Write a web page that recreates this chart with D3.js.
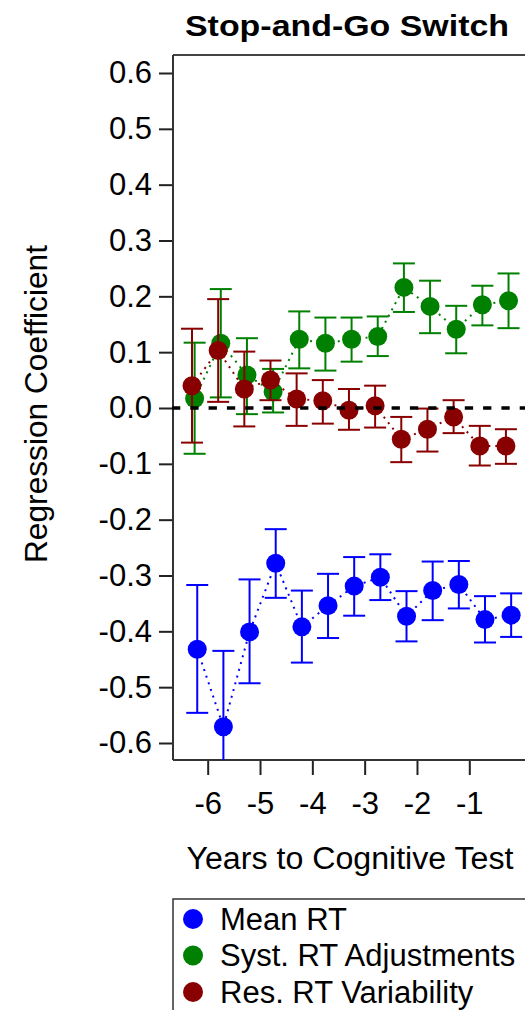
<!DOCTYPE html>
<html>
<head>
<meta charset="utf-8">
<script src="https://cdn.jsdelivr.net/npm/d3@7"></script>
<style>
  html, body { margin: 0; padding: 0; background: #fff; }
  svg { display: block; }
  text { font-family: "Liberation Sans", Arial, sans-serif; fill: #000; }
</style>
</head>
<body>
<svg id="chart" width="525" height="1010"></svg>
<script>
// ---- data ----
const years = [-6.25, -5.75, -5.25, -4.75, -4.25, -3.75, -3.25, -2.75, -2.25, -1.75, -1.25, -0.75, -0.25];

const meanRT   = [-0.432, -0.571, -0.401, -0.278, -0.392, -0.354, -0.319, -0.303, -0.373, -0.327, -0.316, -0.379, -0.371];
const meanRTLo = [-0.546, -0.707, -0.493, -0.340, -0.456, -0.412, -0.372, -0.344, -0.418, -0.380, -0.359, -0.420, -0.410];
const meanRTHi = [-0.317, -0.435, -0.307, -0.217, -0.327, -0.297, -0.267, -0.262, -0.328, -0.275, -0.274, -0.337, -0.332];

const systRT   = [0.017, 0.116, 0.059, 0.029, 0.123, 0.116, 0.123, 0.128, 0.216, 0.182, 0.141, 0.185, 0.192];
const systRTLo = [-0.082, 0.019, -0.011, -0.008, 0.071, 0.067, 0.083, 0.093, 0.172, 0.134, 0.098, 0.148, 0.143];
const systRTHi = [0.117, 0.213, 0.125, 0.070, 0.173, 0.162, 0.162, 0.164, 0.259, 0.228, 0.183, 0.219, 0.241];

const resRT    = [0.040, 0.103, 0.034, 0.050, 0.016, 0.013, -0.004, 0.004, -0.056, -0.038, -0.016, -0.068, -0.068];
const resRTLo  = [-0.062, 0.011, -0.033, 0.014, -0.032, -0.028, -0.039, -0.035, -0.097, -0.078, -0.045, -0.103, -0.100];
const resRTHi  = [0.142, 0.195, 0.101, 0.085, 0.062, 0.050, 0.034, 0.040, -0.016, -0.001, 0.014, -0.032, -0.038];

const seriesNames = ["Mean RT", "Syst. RT Adjustments", "Res. RT Variability"];
const yTicks = [-0.6, -0.5, -0.4, -0.3, -0.2, -0.1, 0.0, 0.1, 0.2, 0.3, 0.4, 0.5, 0.6];
const xTicks = [-6, -5, -4, -3, -2, -1];
const titleText = "Stop-and-Go Switch";
const xLabel = "Years to Cognitive Test";
const yLabel = "Regression Coefficient";

// ---- layout / style ----
const colors = { mean: "#0000ff", syst: "#008000", res: "#880000" };
const dodge = { mean: 0.05, syst: 0.0, res: -0.05 };
const plot = { left: 173, top: 55, right: 560, bottom: 760 };
const FONT = 31;
const FAM = "'Liberation Sans', Arial, sans-serif";

const svg = d3.select("#chart");

const x = d3.scaleLinear().domain([-6, -1]).range([207.7, 469.3]);
const y = d3.scaleLinear().domain([-0.6, 0.6]).range([743, 73]);

// clip
svg.append("defs").append("clipPath").attr("id", "clip")
  .append("rect").attr("x", plot.left).attr("y", plot.top)
  .attr("width", plot.right - plot.left).attr("height", plot.bottom - plot.top);

// title
svg.append("text").attr("x", 347).attr("y", 36).attr("text-anchor", "middle")
  .attr("font-size", 30).attr("font-weight", "bold")
  .attr("textLength", 324).attr("lengthAdjust", "spacingAndGlyphs")
  .text(titleText);

// frame top line
svg.append("line").attr("x1", plot.left).attr("x2", plot.right)
  .attr("y1", plot.top).attr("y2", plot.top)
  .attr("stroke", "#444").attr("stroke-width", 2);

// y axis
const yAxis = svg.append("g").attr("transform", `translate(${plot.left},0)`)
  .call(d3.axisLeft(y).tickValues(yTicks).tickSize(14).tickPadding(7).tickSizeOuter(0)
    .tickFormat(d => (Math.abs(d) < 1e-9 ? 0 : d).toFixed(1)));
yAxis.select(".domain").remove();
yAxis.selectAll(".tick line").attr("stroke", "#222").attr("stroke-width", 2);
yAxis.selectAll(".tick text").attr("font-size", FONT)
  .attr("font-family", FAM).attr("fill", "#000");
svg.append("line").attr("x1", plot.left).attr("x2", plot.left)
  .attr("y1", plot.top).attr("y2", plot.bottom)
  .attr("stroke", "#333").attr("stroke-width", 2);

// x axis
const xAxis = svg.append("g").attr("transform", `translate(0,${plot.bottom})`)
  .call(d3.axisBottom(x).tickValues(xTicks).tickSize(15).tickPadding(17).tickSizeOuter(0)
    .tickFormat(d => String(d)));
xAxis.select(".domain").remove();
xAxis.selectAll(".tick line").attr("stroke", "#222").attr("stroke-width", 2);
xAxis.selectAll(".tick text").attr("font-size", FONT)
  .attr("font-family", FAM).attr("fill", "#000");
svg.append("line").attr("x1", plot.left).attr("x2", plot.right)
  .attr("y1", plot.bottom).attr("y2", plot.bottom)
  .attr("stroke", "#333").attr("stroke-width", 2);

// axis titles
svg.append("text").attr("x", 350).attr("y", 869).attr("text-anchor", "middle")
  .attr("font-size", FONT).attr("textLength", 327).attr("lengthAdjust", "spacingAndGlyphs")
  .text(xLabel);
svg.append("text").attr("transform", "translate(47,404) rotate(-90)")
  .attr("text-anchor", "middle").attr("font-size", FONT)
  .attr("textLength", 318).attr("lengthAdjust", "spacingAndGlyphs")
  .text(yLabel);

// series
const marks = svg.append("g").attr("clip-path", "url(#clip)");

function drawSeries(key, vals, lo, hi) {
  const pts = years.map((yr, i) => ({ xv: yr + dodge[key], v: vals[i], lo: lo[i], hi: hi[i] }));
  const g = marks.append("g");
  const col = colors[key];
  // dotted connecting line
  g.append("path").datum(pts)
    .attr("d", d3.line().x(d => x(d.xv)).y(d => y(d.v)))
    .attr("fill", "none").attr("stroke", col).attr("stroke-width", 2)
    .attr("stroke-dasharray", "2,5");
  // error bars
  const eb = g.selectAll(".eb").data(pts).join("g");
  eb.append("line").attr("x1", d => x(d.xv)).attr("x2", d => x(d.xv))
    .attr("y1", d => y(d.lo)).attr("y2", d => y(d.hi))
    .attr("stroke", col).attr("stroke-width", 2);
  eb.append("line").attr("x1", d => x(d.xv) - 11).attr("x2", d => x(d.xv) + 11)
    .attr("y1", d => y(d.hi)).attr("y2", d => y(d.hi))
    .attr("stroke", col).attr("stroke-width", 2);
  eb.append("line").attr("x1", d => x(d.xv) - 11).attr("x2", d => x(d.xv) + 11)
    .attr("y1", d => y(d.lo)).attr("y2", d => y(d.lo))
    .attr("stroke", col).attr("stroke-width", 2);
  // dots
  g.selectAll("circle").data(pts).join("circle")
    .attr("cx", d => x(d.xv)).attr("cy", d => y(d.v)).attr("r", 9.5)
    .attr("fill", col);
}

drawSeries("syst", systRT, systRTLo, systRTHi);
drawSeries("res", resRT, resRTLo, resRTHi);
drawSeries("mean", meanRT, meanRTLo, meanRTHi);

// zero reference line
svg.append("line").attr("x1", plot.left - 1).attr("x2", plot.right)
  .attr("y1", y(0)).attr("y2", y(0))
  .attr("stroke", "#000").attr("stroke-width", 3.5)
  .attr("stroke-dasharray", "8.3,10");

// legend
const legend = svg.append("g");
legend.append("rect").attr("x", 173).attr("y", 899).attr("width", 420).attr("height", 200)
  .attr("fill", "#fff").attr("stroke", "#333").attr("stroke-width", 1.5);
const legKeys = ["mean", "syst", "res"];
const legY = d3.scalePoint().domain(legKeys).range([919, 992]);
legKeys.forEach((k, i) => {
  legend.append("circle").attr("cx", 193).attr("cy", legY(k)).attr("r", 10).attr("fill", colors[k]);
  legend.append("text").attr("x", 220).attr("y", legY(k) + 10.5)
    .attr("font-size", FONT).text(seriesNames[i]);
});
</script>
</body>
</html>
